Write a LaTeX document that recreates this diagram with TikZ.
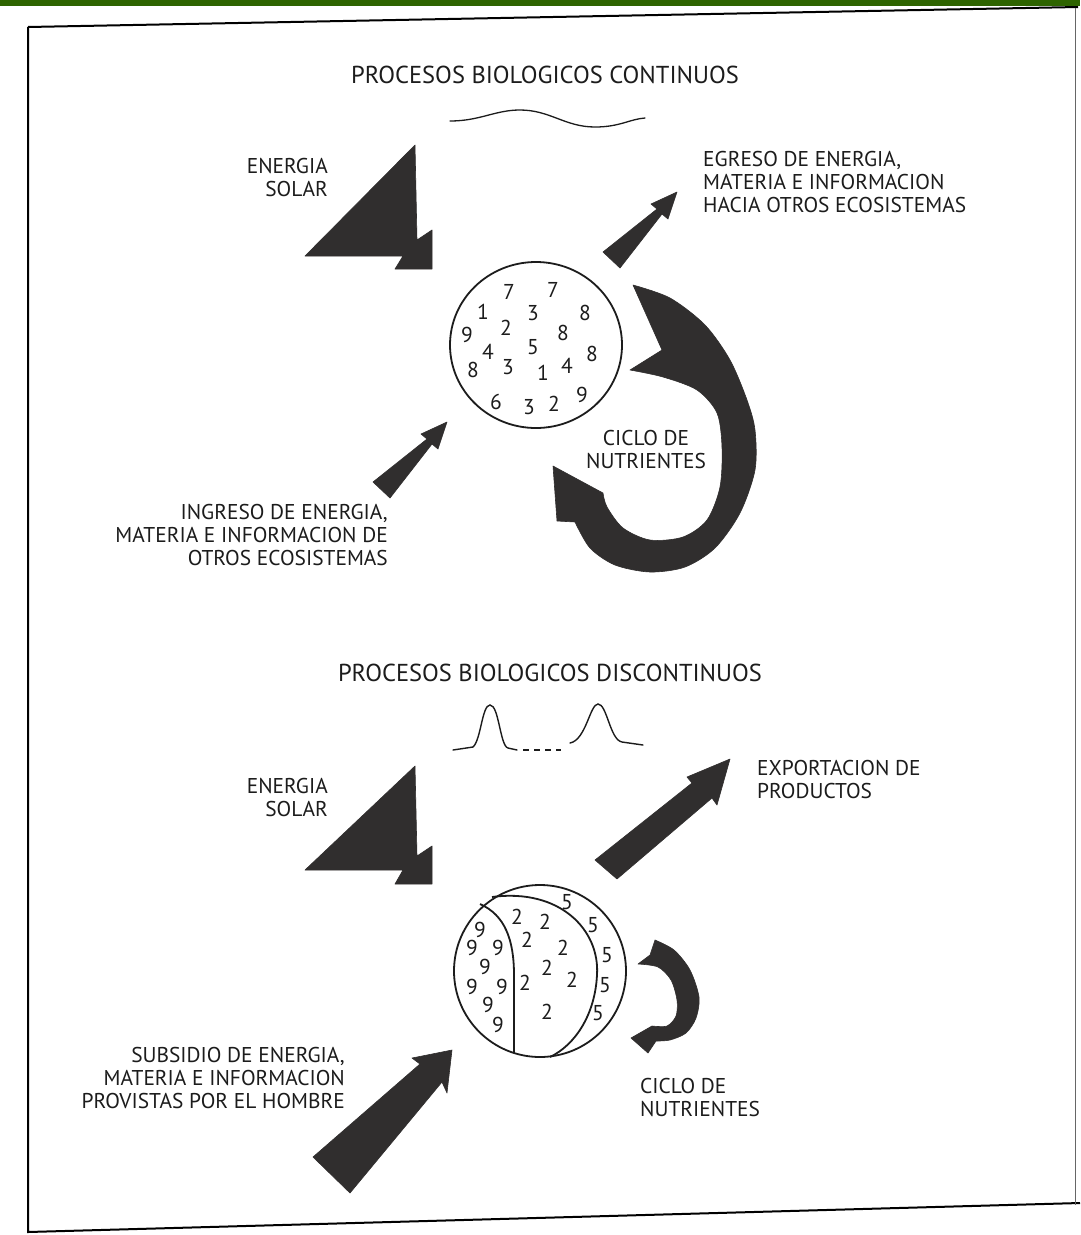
\documentclass[tikz,border=0pt]{standalone}
\usepackage{fontspec}
\setmainfont{PT Sans}
\definecolor{ink}{RGB}{28,28,28}
\definecolor{arrowgray}{RGB}{48,46,46}
\definecolor{bargreen}{RGB}{46,100,0}
\begin{document}
\begin{tikzpicture}[x=1pt,y=-1pt]
\tikzset{
  lbl/.style={font=\fontsize{21.4}{23}\selectfont, text=ink, inner sep=0pt},
  ttl/.style={font=\fontsize{24.5}{26}\selectfont, text=ink, inner sep=0pt},
  num/.style={font=\fontsize{21.5}{21}\selectfont, text=ink, inner sep=0pt},
  blk/.style={fill=arrowgray, draw=arrowgray, line width=0.6pt, line join=round},
  ring/.style={draw=ink, line width=1.8pt},
  frameline/.style={draw=black, line width=2pt},
  thin/.style={draw=ink, line width=1.8pt, line cap=round}
}
\useasboundingbox (0,0) rectangle (1080,1235);
\fill[white] (0,0) rectangle (1080,1235);
\fill[bargreen] (0,0) rectangle (1080,6);
% frame
\coordinate (fTL) at (28,27);
\coordinate (fTR) at (1078,7);
\coordinate (fBL) at (28,1232);
\coordinate (fBR) at (1080,1203);
\draw[frameline] (fTL) -- (fTR);
\draw[frameline] (fTL) -- (fBL) -- (fBR);
\draw[draw=black!60, line width=0.8pt] (1075,8) -- (1075,1205);

% ================= TOP =================
\node[ttl] (t1) at (545,75) {PROCESOS BIOLOGICOS CONTINUOS};
\draw[thin, line width=1.3pt] (450,121) .. controls (480,121) and (495,110) .. (520,110)
  .. controls (550,110) and (565,127) .. (595,127) .. controls (620,127) and (630,119) .. (645,118);

\node[lbl, align=right, anchor=east] (s1) at (328,178) {ENERGIA\\SOLAR};
\fill[blk] (415,145) -- (417,240) -- (432,230) -- (432,269) -- (395,269) -- (403,256) -- (305,256) -- cycle;

\node[lbl, align=left, anchor=west] (eg) at (703,182) {EGRESO DE ENERGIA,\\MATERIA E INFORMACION\\HACIA OTROS ECOSISTEMAS};
\fill[blk] (603,252) -- (657,209) -- (651,204) -- (677,192) -- (668,219) -- (662,214) -- (620,268) -- cycle;

\draw[ring] (536,345) ellipse [x radius=86, y radius=83];
\foreach \t/\x/\y [count=\i] in {7/509/292, 7/553/290, 1/483/312, 3/533/313, 8/585/313,
  9/467/335, 2/506/328, 8/563/333, 5/533/347, 4/488/352, 8/592/354, 8/473/370,
  3/508/367, 1/543/373, 4/567/366, 6/496/402, 3/529/407, 2/554/404, 9/582/395}
  \node[num] (a\i) at (\x,\y) {\t};

\node[lbl, align=right, anchor=east] (ing) at (388,535) {INGRESO DE ENERGIA,\\MATERIA E INFORMACION DE\\OTROS ECOSISTEMAS};
\fill[blk] (373,482) -- (427,439) -- (421,434) -- (447,422) -- (438,449) -- (432,444) -- (390,498) -- cycle;

\fill[blk] (633,285) -- (662,350) -- (630,370)
  -- plot[smooth] coordinates {(630,370) (663,377) (697,390) (717,413) (722,447) (720,487) (707,520) (683,537) (650,540) (623,528) (607,507) (603,493)}
  -- (553,466) -- (557,521)
  -- plot[smooth] coordinates {(575,522) (590,548) (615,565) (650,572) (685,567) (715,548) (740,513) (755,470) (755,430) (747,400) (730,360) (705,325) (670,298) (633,285)}
  -- cycle;
\node[lbl, align=center] (c1) at (646,450) {CICLO DE\\NUTRIENTES};

% ================= BOTTOM =================
\node[ttl] (t2) at (550,673) {PROCESOS BIOLOGICOS DISCONTINUOS};
\draw[thin, line width=1.4pt] (453,750) -- (473,747) .. controls (481,740) and (482,705) .. (490,705)
  .. controls (499,705) and (500,746) .. (508,748) -- (517,750);
\draw[thin, line width=1.6pt, line cap=butt, dash pattern=on 6pt off 5pt] (523,750) -- (561,750);
\draw[thin, line width=1.4pt] (570,743) .. controls (586,740) and (590,704) .. (598,704)
  .. controls (607,704) and (610,740) .. (622,742) -- (643,745);

\node[lbl, align=right, anchor=east] (s2) at (328,797) {ENERGIA\\SOLAR};
\fill[blk] (415,766) -- (417,856) -- (432,846) -- (432,884) -- (395,884) -- (403,870) -- (305,870) -- cycle;

\node[lbl, align=left, anchor=west] (ex) at (757,779) {EXPORTACION DE\\PRODUCTOS};
\fill[blk] (595,860) -- (692,783) -- (687,777) -- (730,759) -- (717,805) -- (712,798) -- (617,879) -- cycle;

\draw[ring] (540,971) circle [radius=86];
\draw[ring] (480,904) .. controls (505,915) and (514,940) .. (514,975) -- (514,1053);
\draw[ring] (492,897) .. controls (560,888) and (600,930) .. (597,975) .. controls (595,1015) and (575,1045) .. (550,1057);
\foreach \t/\x/\y [count=\i] in {9/480/930, 9/472/948, 9/498/948, 9/485/967, 9/472/987, 9/502/987, 9/488/1005, 9/498/1025,
  2/517/917, 2/545/922, 2/527/940, 2/563/948, 2/547/968, 2/572/980, 2/525/983, 2/547/1012,
  5/567/902, 5/593/925, 5/607/955, 5/605/985, 5/598/1013}
  \node[num] (b\i) at (\x,\y) {\t};

\fill[blk] (655,940) -- (650,955) -- (638,964)
  -- plot[smooth] coordinates {(638,964) (658,967) (671,980) (677,1000) (676,1016) (667,1026) (652,1026)}
  -- (631,1038) -- (648,1053)
  -- plot[smooth] coordinates {(656,1041) (670,1040) (686,1033) (696,1018) (699,997) (690,970) (674,950) (655,940)}
  -- cycle;
\node[lbl, align=left, anchor=west] (c2) at (640,1097) {CICLO DE\\NUTRIENTES};

\node[lbl, align=right, anchor=east] (sub) at (345,1078) {SUBSIDIO DE ENERGIA,\\MATERIA E INFORMACION\\PROVISTAS POR EL HOMBRE};
\fill[blk] (313,1157) -- (420,1064) -- (412,1058) -- (452,1050) -- (447,1093) -- (442,1082) -- (350,1193) -- cycle;
\end{tikzpicture}
\end{document}
